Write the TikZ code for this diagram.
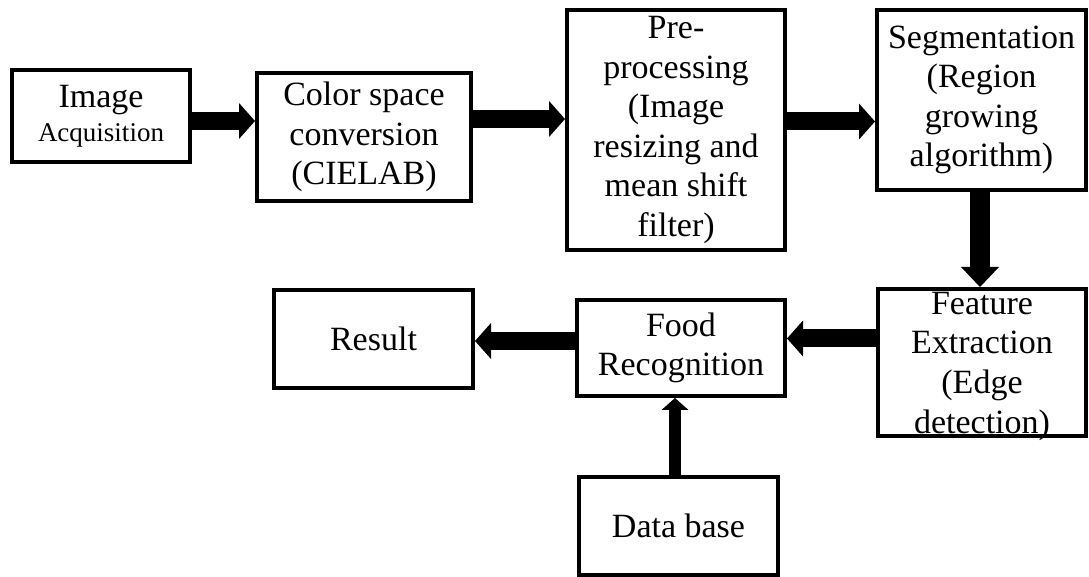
\documentclass[tikz,border=0pt]{standalone}
\usepackage{fontspec}
\setmainfont{Liberation Serif}
\usetikzlibrary{arrows.meta}

\begin{document}
\begin{tikzpicture}[x=0.5pt,y=-0.5pt,
  stage/.style={draw,line width=2pt,align=center,inner sep=0pt,
    font=\fontsize{17}{19.8}\selectfont},
  flow/.style={line width=9pt,-{Triangle[length=8pt,width=18pt,line width=0pt]}},
  bigflow/.style={line width=10pt,-{Triangle[length=10pt,width=19pt,line width=0pt]}},
  thinflow/.style={line width=6pt,-{Triangle[length=6pt,width=13.5pt,line width=0pt]}}]
\useasboundingbox (0,0) rectangle (1089,577);

% top row
\node[stage,minimum width=89pt,minimum height=46pt] (acq) at (101,116)
  {Image\\[-2.8pt]{\fontsize{13.5}{16}\selectfont Acquisition}};
\node[stage,minimum width=107pt,minimum height=64pt] (csc) at (364,137)
  {Color space\\conversion\\(CIELAB)};
\node[stage,minimum width=109pt,minimum height=120pt] (pre) at (676,130)
  {Pre-\\processing\\(Image\\resizing and\\mean shift\\filter)};
\node[stage,minimum width=104.5pt,minimum height=90pt] (seg) at (981.5,100)
  {Segmentation\\(Region\\growing\\algorithm)};

% bottom row
\node[stage,minimum width=104pt,minimum height=73.5pt] (feat) at (982,362.5)
  {Feature\\Extraction\\(Edge\\\raisebox{0pt}[\height][0pt]{detection)}};
\node[stage,minimum width=104pt,minimum height=48pt] (food) at (681,348)
  {Food\\Recognition};
\node[stage,minimum width=99.5pt,minimum height=49pt] (res) at (373.5,339)
  {Result};
\node[stage,minimum width=99.5pt,minimum height=49pt] (db) at (678.5,526)
  {Data base};

\draw[flow] (acq.east |- 0,121) -- (csc.west |- 0,121);
\draw[flow] (csc.east |- 0,119) -- (pre.west |- 0,119);
\draw[flow] (pre.east |- 0,121.5) -- (seg.west |- 0,121.5);
\draw[bigflow] (seg.south -| 980,0) -- (feat.north -| 980,0);
\draw[flow] (feat.west |- 0,338.5) -- (food.east |- 0,338.5);
\draw[flow] (food.west |- 0,341) -- (res.east |- 0,341);
\draw[thinflow] (db.north -| 675,0) -- (food.south -| 675,0);
\end{tikzpicture}
\end{document}
